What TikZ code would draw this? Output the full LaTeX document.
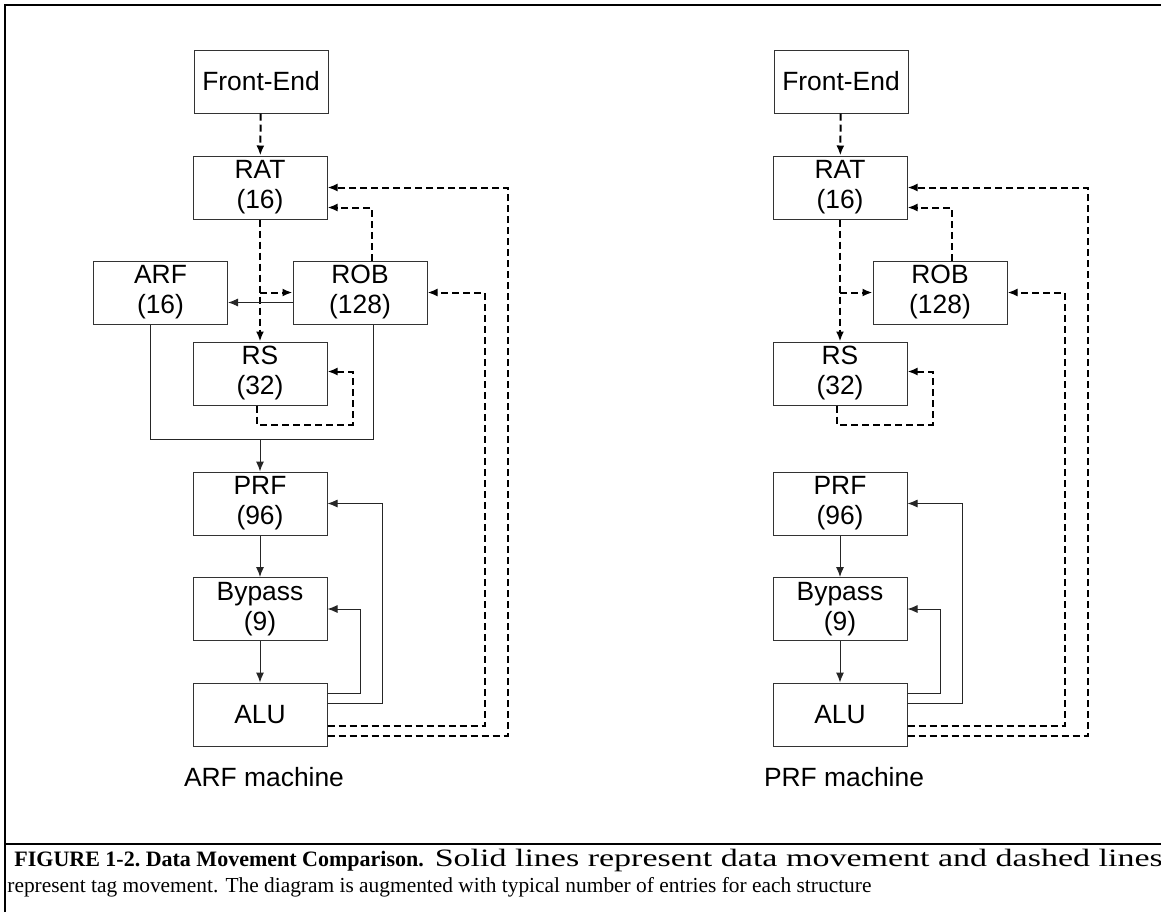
\documentclass[tikz,border=0pt]{standalone}
\usepackage{fontspec}
\setmainfont{Liberation Serif}
\newfontfamily\arialfont{Liberation Sans}
\usetikzlibrary{positioning,calc,arrows.meta}

\begin{document}
\begin{tikzpicture}[x=0.5pt,y=-0.5pt,
  blk/.style={draw=black!80,line width=0.5pt,minimum width=67pt,minimum height=31.5pt,
    inner sep=0pt,align=center,font=\arialfont\fontsize{13.2}{15}\selectfont},
  lbl/.style={anchor=base,inner sep=0pt,font=\arialfont\fontsize{13.2}{15}\selectfont},
  dat/.style={line width=0.5pt,draw=black!85,-{Latex[length=5pt,width=4pt]}},
  tag/.style={line width=1pt,dash pattern=on 3.5pt off 2pt,-{Latex[length=5pt,width=4pt]}},
  frm/.style={line width=1pt}]
  \useasboundingbox (0,0) rectangle (1161,912);
  % frame
  \draw[frm] (5,912) -- (5,5) -- (1161,5);
  \draw[frm] (5,844) -- (1161,844);
  % ARF machine
  \node[blk] (fe1)  at (261,81.5)   {Front-End};
  \node[blk] (rat1) at (260,187.5)  {RAT\\(16)};
  \node[blk] (arf1) at (160.5,292.5) {ARF\\(16)};
  \node[blk] (rob1) at (360,292.5)  {ROB\\(128)};
  \node[blk] (rs1)  at (260,373.5)  {RS\\(32)};
  \node[blk] (prf1) at (260,503.5)  {PRF\\(96)};
  \node[blk] (byp1) at (260,609)    {Bypass\\(9)};
  \node[blk] (alu1) at (260,714.5)  {ALU};
  \node[lbl] (nm1)  at (264,786)    {ARF machine};
  \coordinate (br1) at (rat1.south |- rob1.west);
  \coordinate (mg1) at ([yshift=16pt]prf1.north);
  \draw[tag] (fe1) -- (rat1);
  \draw[tag] (rat1) -- (rs1);
  \draw[tag] (br1) -- (rob1.west);
  \draw[dat] ([yshift=-5pt]rob1.west) -- ([yshift=-5pt]arf1.east);
  \draw[tag] ([xshift=6pt]rob1.north) |- ([yshift=-10pt]rat1.east);
  \draw[tag] ([xshift=-1.5pt]rs1.south) -- ++(0,19) -| ([xshift=12.5pt,yshift=1pt]rs1.east) -- ([yshift=1pt]rs1.east);
  \draw[dat,-] ([xshift=-5.25pt]arf1.south) |- (mg1) -| ([xshift=6.5pt]rob1.south);
  \draw[dat] (mg1) -- (prf1);
  \draw[dat] (prf1) -- (byp1);
  \draw[dat] (byp1) -- (alu1);
  \draw[dat] ([yshift=10.5pt]alu1.east) -- ++(33,0) |- (byp1.east);
  \draw[dat] ([yshift=5.5pt]alu1.east) -- ++(55,0) |- (prf1.east);
  \draw[tag] ([yshift=-5.5pt]alu1.east) -- ++(157,0) |- (rob1.east);
  \draw[tag] ([yshift=-10.75pt]alu1.east) -- ++(180,0) |- (rat1.east);
  % PRF machine
  \node[blk] (fe2)  at (841,81.5)   {Front-End};
  \node[blk] (rat2) at (840,187.5)  {RAT\\(16)};
  \node[blk] (rob2) at (940,292.5)  {ROB\\(128)};
  \node[blk] (rs2)  at (840,373.5)  {RS\\(32)};
  \node[blk] (prf2) at (840,503.5)  {PRF\\(96)};
  \node[blk] (byp2) at (840,609)    {Bypass\\(9)};
  \node[blk] (alu2) at (840,714.5)  {ALU};
  \node[lbl] (nm2)  at (844,786)    {PRF machine};
  \coordinate (br2) at (rat2.south |- rob2.west);
  \draw[tag] (fe2) -- (rat2);
  \draw[tag] (rat2) -- (rs2);
  \draw[tag] (br2) -- (rob2.west);
  \draw[tag] ([xshift=6pt]rob2.north) |- ([yshift=-10pt]rat2.east);
  \draw[tag] ([xshift=-1.5pt]rs2.south) -- ++(0,19) -| ([xshift=12.5pt,yshift=1pt]rs2.east) -- ([yshift=1pt]rs2.east);
  \draw[dat] (prf2) -- (byp2);
  \draw[dat] (byp2) -- (alu2);
  \draw[dat] ([yshift=10.5pt]alu2.east) -- ++(33,0) |- (byp2.east);
  \draw[dat] ([yshift=5.5pt]alu2.east) -- ++(55,0) |- (prf2.east);
  \draw[tag] ([yshift=-5.5pt]alu2.east) -- ++(157,0) |- (rob2.east);
  \draw[tag] ([yshift=-10.75pt]alu2.east) -- ++(180,0) |- (rat2.east);
  % caption
  \node[anchor=base west,inner sep=0pt,font=\fontsize{11}{12}\selectfont] (cpa) at (14,866)
    {\textbf{FIGURE 1-2.\ Data Movement Comparison.}\ \ \resizebox{364pt}{\height}{\fontsize{12.5}{13}\selectfont Solid lines represent data movement and dashed lines}};
  \node[anchor=base west,inner sep=0pt,font=\fontsize{10.7}{12}\selectfont] (cpb) at (7,892)
    {represent tag movement. The diagram is augmented with typical number of entries for each structure};
\end{tikzpicture}
\end{document}
